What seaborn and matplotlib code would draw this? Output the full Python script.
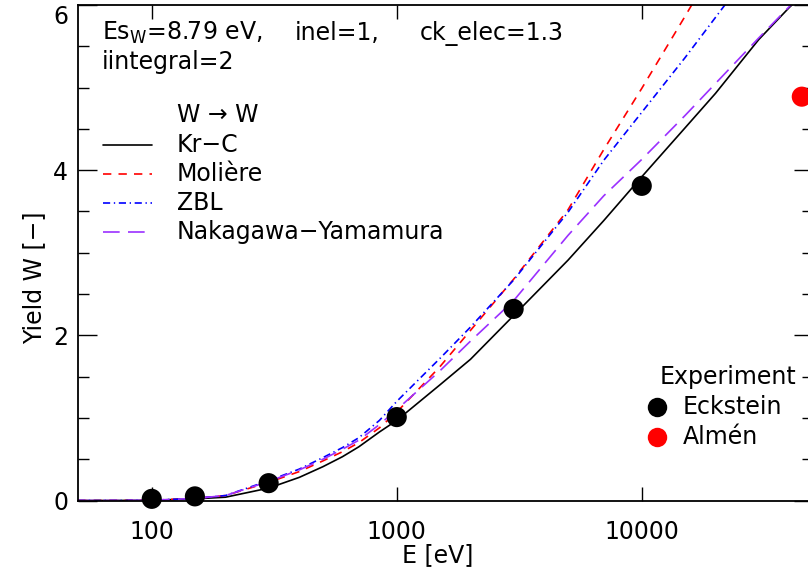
import numpy as np
import pandas as pd
import matplotlib
matplotlib.use("Agg")
import matplotlib.pyplot as plt
from matplotlib.ticker import FixedLocator, MultipleLocator, NullLocator, FixedFormatter
from matplotlib.lines import Line2D
import seaborn as sns

# Sputtering yield of W by W ions, calculated for four interatomic potentials
energy = [50, 70, 100, 150, 200, 300, 400, 500, 600, 700, 850, 1000, 1500, 2000, 3000,
          5000, 7000, 10000, 15000, 20000, 30000, 40000, 50000]
yield_krc = [0, 0, 0.003, 0.02, 0.04, 0.15, 0.28, 0.41, 0.53, 0.65, 0.83, 0.97, 1.40, 1.71, 2.24,
             2.91, 3.39, 3.92, 4.51, 4.93, 5.58, 5.97, 6.24]
yield_moliere = [0, 0, 0.003, 0.025, 0.06, 0.22, 0.35, 0.48, 0.59, 0.70, 0.88, 1.07, 1.62, 2.06, 2.68,
                 3.52, 4.25, 4.99, 5.86, 6.49, np.nan, np.nan, np.nan]
yield_zbl = [0, 0, 0.003, 0.025, 0.06, 0.24, 0.38, 0.52, 0.64, 0.76, 0.97, 1.20, 1.72, 2.10, 2.67,
             3.49, 4.12, 4.70, 5.36, 5.85, 6.54, np.nan, np.nan]
yield_ny = [0, 0, 0.003, 0.025, 0.06, 0.23, 0.37, 0.50, 0.62, 0.73, 0.92, 1.10, 1.57, 1.93, 2.42,
            3.21, 3.69, 4.13, 4.66, 5.05, 5.60, 5.98, 6.25]

potentials = ["Kr\u2212C", "Moli\u00e8re", "ZBL", "Nakagawa\u2212Yamamura"]
colors = ["black", "#ff0000", "#0000ff", "#9b30ff"]
dash_styles = ["", (5, 4.3), (4.3, 2.2, 0.8, 2.2), (10, 5)]

# Measured yields
eckstein_energy = [100, 150, 300, 1000, 3000, 10000]
eckstein_yield = [0.02, 0.05, 0.21, 1.01, 2.32, 3.81]
almen_energy = [45000]
almen_yield = [4.89]

sim = pd.concat([
    pd.DataFrame({"E": energy, "Y": ys, "pot": name})
    for name, ys in zip(potentials, [yield_krc, yield_moliere, yield_zbl, yield_ny])
]).dropna()
exp = pd.concat([
    pd.DataFrame({"E": eckstein_energy, "Y": eckstein_yield, "src": "Eckstein"}),
    pd.DataFrame({"E": almen_energy, "Y": almen_yield, "src": "Almen"}),
])

sns.set_style("ticks")
plt.rcParams["font.family"] = ["DejaVu Sans"]
for key in ["text.color", "axes.labelcolor", "xtick.color", "ytick.color", "axes.edgecolor"]:
    plt.rcParams[key] = "black"
FS = 17

W, H = 808, 579
fig = plt.figure(figsize=(W / 100, H / 100), dpi=100)
ax = fig.add_axes([78 / W, 78.5 / H, 735 / W, 495.5 / H])


def fpx(x, y):
    return (x / W, 1 - y / H)


sns.lineplot(data=sim, x="E", y="Y", hue="pot", style="pot",
             hue_order=potentials, style_order=potentials,
             palette=dict(zip(potentials, colors)),
             dashes=dict(zip(potentials, dash_styles)),
             linewidth=1.2, legend=False, sort=True, estimator=None, ax=ax)
sns.scatterplot(data=exp, x="E", y="Y", hue="src",
                palette={"Eckstein": "black", "Almen": "#ff0000"},
                marker="o", s=210, edgecolor="none", legend=False,
                clip_on=False, zorder=5, ax=ax)

ax.set_xscale("log")
ax.set_xlim(50, 50000)
ax.set_ylim(0, 6)
ax.xaxis.set_major_locator(FixedLocator([100, 1000, 10000]))
ax.xaxis.set_major_formatter(FixedFormatter(["100", "1000", "10000"]))
ax.xaxis.set_minor_locator(NullLocator())
ax.yaxis.set_major_locator(FixedLocator([0, 2, 4, 6]))
ax.yaxis.set_major_formatter(FixedFormatter(["0", "2", "4", "6"]))
ax.yaxis.set_minor_locator(MultipleLocator(0.5))
ax.tick_params(axis="both", which="both", direction="in", top=True, right=True,
               width=1.0, color="black", labelsize=FS, labelcolor="black")
ax.tick_params(axis="x", which="major", length=10, pad=14)
ax.tick_params(axis="y", which="major", length=14, pad=7)
ax.tick_params(axis="y", which="minor", length=8)
for sp in ax.spines.values():
    sp.set_linewidth(1.3)
    sp.set_color("black")

fig.canvas.draw()
ylabels = ax.get_yticklabels()
ylabels[-1].set_va("top")

ax.set_xlabel("E [eV]", fontsize=FS)
ax.set_ylabel("Yield W [\u2212]", fontsize=FS)
ax.xaxis.set_label_coords((438 - 78) / 735, -(543 - 500.5) / 495.5)
ax.yaxis.set_label_coords(-(78 - 46) / 735, (500.5 - 278) / 495.5)

# Run parameters
fig.text(*fpx(102, 33), "Es$_\\mathregular{W}$=8.79 eV,", fontsize=FS, va="center", ha="left")
fig.text(*fpx(295, 33), "inel=1,", fontsize=FS, va="center", ha="left")
fig.text(*fpx(420, 33), "ck_elec=1.3", fontsize=FS, va="center", ha="left")
fig.text(*fpx(102, 62), "iintegral=2", fontsize=FS, va="center", ha="left")

# Potential key
fig.text(*fpx(177, 115), "W \u2192 W", fontsize=FS, va="center", ha="left")
key_y = [145, 174, 203, 232]
for name, c, d, yk in zip(potentials, colors, dash_styles, key_y):
    ln = Line2D([103 / W, 152 / W], [1 - yk / H, 1 - yk / H], transform=fig.transFigure,
                color=c, linewidth=1.2)
    if d:
        ln.set_dashes(d)
    fig.add_artist(ln)
    fig.text(*fpx(177, yk), name, fontsize=FS, va="center", ha="left")

# Experiment key
fig.text(*fpx(660, 377), "Experiment", fontsize=FS, va="center", ha="left")
for lab, c, yk in [("Eckstein", "black", 407), ("Alm\u00e9n", "#ff0000", 437)]:
    fig.add_artist(Line2D([657 / W], [1 - yk / H], transform=fig.transFigure,
                          marker="o", markersize=14, color=c, markeredgewidth=0,
                          linestyle="none"))
    fig.text(*fpx(683, yk), lab, fontsize=FS, va="center", ha="left")

fig.savefig("out.png", dpi=100)
